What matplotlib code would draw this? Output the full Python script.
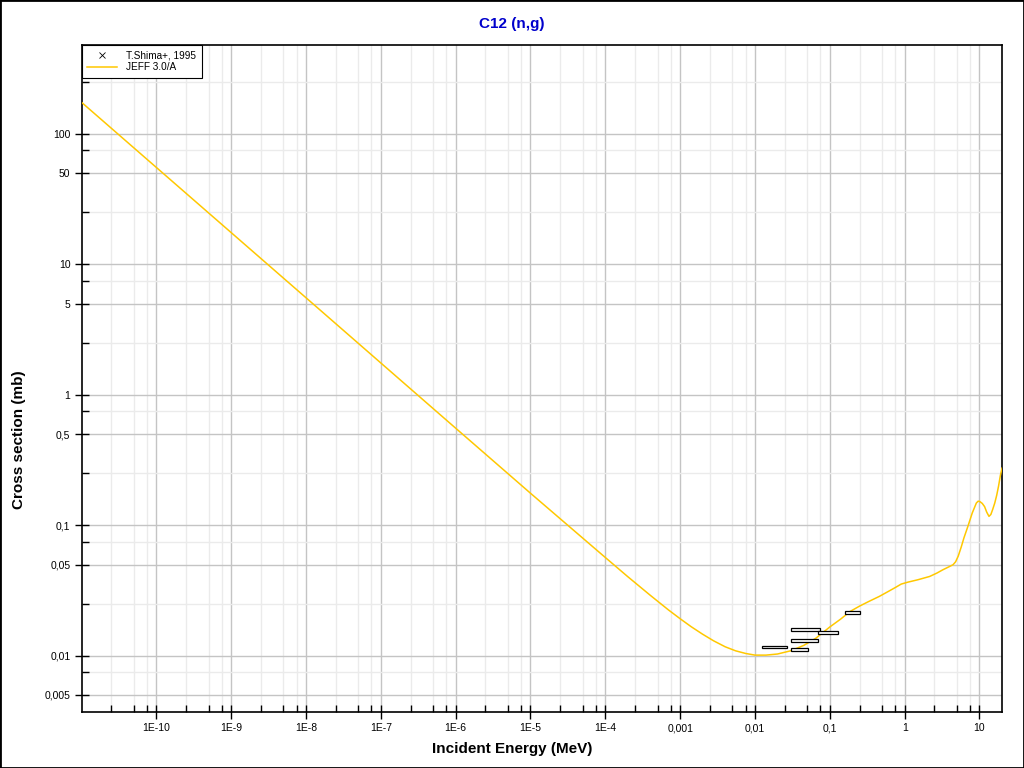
import matplotlib
matplotlib.use('Agg')
import matplotlib.pyplot as plt
from matplotlib.ticker import FixedLocator, FixedFormatter, NullFormatter
from matplotlib.patches import Rectangle
import numpy as np

# JEFF 3.0/A evaluated curve (MeV, mb)
energy = [1e-11, 1e-8, 1e-6, 1e-5, 1e-4, 2e-4, 4e-4, 7e-4, 1e-3, 1.4e-3, 2e-3,
          2.8e-3, 4e-3, 5.5e-3, 7.5e-3, 1e-2, 1.4e-2, 2e-2, 3e-2, 4.5e-2, 6.5e-2,
          0.1, 0.14, 0.186, 0.25, 0.33, 0.46, 0.6, 0.75, 0.9, 1.1, 1.5, 2.16,
          2.7, 3.25, 3.9, 4.43, 4.8, 5.2, 5.7, 6.2, 7.0, 8.0, 9.08, 9.6, 10.1, 10.9,
          11.7, 12.5, 13.4, 14.2, 15.0, 16.0, 17.0, 18.0, 19.0, 20.0]
jeff = [175, 5.55, 0.555, 0.176, 0.0566, 0.0403, 0.0290, 0.0224, 0.0192, 0.0167,
        0.0146, 0.0130, 0.0117, 0.0109, 0.0104, 0.0101, 0.0101, 0.0103, 0.0109,
        0.0120, 0.0136, 0.0166, 0.0191, 0.0218, 0.0240, 0.0260, 0.0285, 0.031,
        0.0333, 0.0354, 0.0366, 0.0382, 0.0405, 0.0430, 0.0456, 0.0480, 0.0498,
        0.0525, 0.058, 0.068, 0.080, 0.098, 0.124, 0.148, 0.153, 0.152, 0.147, 0.139,
        0.126, 0.117, 0.121, 0.132, 0.148, 0.170, 0.200, 0.240, 0.274]

# T.Shima+, 1995
shima_elo = [0.0123, 0.0303, 0.0303, 0.0303, 0.0703, 0.159]
shima_ehi = [0.0265, 0.0506, 0.0703, 0.0741, 0.130, 0.255]
shima_xs = [0.0117, 0.01115, 0.0131, 0.0159, 0.0150, 0.0214]
shima_err = [0.00026, 0.00025, 0.00029, 0.00035, 0.00033, 0.00047]

xticks = [1e-10, 1e-9, 1e-8, 1e-7, 1e-6, 1e-5, 1e-4, 1e-3, 1e-2, 1e-1, 1, 10]
xlabels = ['1E-10', '1E-9', '1E-8', '1E-7', '1E-6', '1E-5', '1E-4',
           '0,001', '0,01', '0,1', '1', '10']
yticks = [0.005, 0.01, 0.05, 0.1, 0.5, 1, 5, 10, 50, 100]
ylabels = ['0,005', '0,01', '0,05', '0,1', '0,5', '1', '5', '10', '50', '100']

tickfont = ['Liberation Sans Narrow', 'Liberation Sans', 'DejaVu Sans']

fig = plt.figure(figsize=(10.24, 7.68), dpi=100)
ax = fig.add_axes([81.5/1024, 1-712/768, 920.5/1024, 667/768])
ax.set_xscale('log')
ax.set_yscale('log')
ax.set_xlim(1e-11, 20)
ax.set_ylim(0.0037, 481)

line, = ax.plot(energy, jeff, color='#FFC800', lw=1.1, label='JEFF 3.0/A', zorder=3)

# markers sit under the error boxes, as in the original
ec = np.sqrt(np.array(shima_elo) * np.array(shima_ehi))
pts, = ax.plot(ec, shima_xs, 'x', color='black', ms=1.5, mew=0.6,
               label='T.Shima+, 1995', zorder=2)
ax.bar(shima_elo, 2*np.array(shima_err), width=np.array(shima_ehi)-np.array(shima_elo),
       bottom=np.array(shima_xs)-np.array(shima_err), align='edge',
       facecolor='white', edgecolor='black', linewidth=0.9, zorder=5)

# ticks
xminor = [m*10.0**k for k in range(-11, 2) for m in (2.5, 5, 7.5)]
yminor = [m*10.0**k for k in range(-3, 3) for m in (2.5, 7.5)]
ax.xaxis.set_major_locator(FixedLocator(xticks))
ax.xaxis.set_major_formatter(FixedFormatter(xlabels))
ax.xaxis.set_minor_locator(FixedLocator(xminor))
ax.xaxis.set_minor_formatter(NullFormatter())
ax.yaxis.set_major_locator(FixedLocator(yticks))
ax.yaxis.set_major_formatter(FixedFormatter(ylabels))
ax.yaxis.set_minor_locator(FixedLocator(yminor))
ax.yaxis.set_minor_formatter(NullFormatter())
ax.tick_params(which='major', direction='inout', length=10, width=1, labelsize=7.5, pad=3)
ax.tick_params(which='minor', direction='in', length=5, width=1)
for lab in ax.get_xticklabels() + ax.get_yticklabels():
    lab.set_family(tickfont)

ax.grid(which='major', color='#c4c4c4', lw=1)
ax.grid(which='minor', color='#ebebeb', lw=1)
ax.set_axisbelow(True)
for s in ax.spines.values():
    s.set_color('black')
    s.set_linewidth(1.2)

fig.text(0.5, 1-24/768, 'C12 (n,g)', color='#0000CC', fontsize=11, fontweight='bold',
         ha='center', va='center', family='Liberation Sans')
fig.text(0.5, 1-749/768, 'Incident Energy (MeV)', fontsize=11, fontweight='bold',
         ha='center', va='center', family='Liberation Sans')
fig.text(19/1024, 1-440/768, 'Cross section (mb)', fontsize=11, fontweight='bold',
         ha='center', va='center', rotation=90, family='Liberation Sans')

leg = ax.legend(handles=[pts, line], loc='upper left', borderaxespad=0, fancybox=False,
                framealpha=1, edgecolor='black', handlelength=3.0, handletextpad=0.9,
                borderpad=0.55, labelspacing=0.15, prop={'family': 'Liberation Sans', 'size': 7.2})
leg.get_frame().set_linewidth(0.8)
leg.legend_handles[0].set_markersize(4)

fig.add_artist(Rectangle((0, 0), 1, 1, transform=fig.transFigure, fill=False,
                         edgecolor='black', lw=2))

fig.savefig('out.png', dpi=100)
